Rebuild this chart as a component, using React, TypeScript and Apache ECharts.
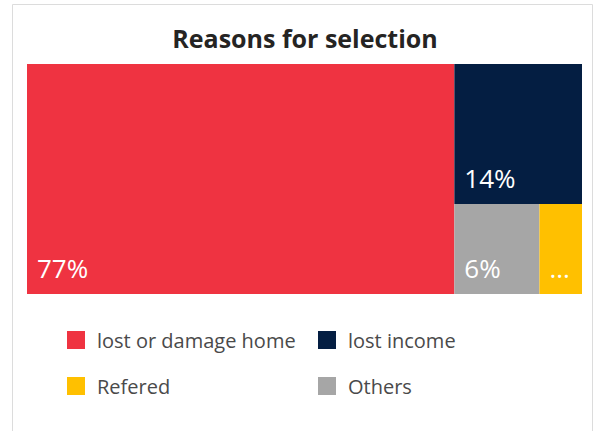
import React, { useEffect, useRef } from "react";
import * as echarts from "echarts";

const categories = ["lost or damage home", "lost income", "Refered", "Others"];
const values = [77, 14, 3, 6];
const colors = ["#EF3341", "#041E42", "#FFC000", "#A6A6A6"];
const legendOrder = [0, 1, 2, 3];

const FONT = "'Open Sans', 'Noto Sans', sans-serif";

export default function App() {
  const ref = useRef<HTMLDivElement>(null);
  useEffect(() => {
    if (!ref.current) return;
    const chart = echarts.init(ref.current, null, { renderer: "svg" });
    const total = values.reduce((a, b) => a + b, 0);
    const legendGraphics: any[] = [];
    legendOrder.forEach((idx, i) => {
      const col = i % 2;
      const row = Math.floor(i / 2);
      const x = col === 0 ? 67 : 318;
      const cy = 340 + row * 46;
      legendGraphics.push({
        type: "rect",
        shape: { x, y: cy - 9, width: 18, height: 18 },
        style: { fill: colors[idx] },
      });
      legendGraphics.push({
        type: "text",
        x: x + 30,
        y: cy,
        style: {
          text: categories[idx],
          fill: "#4a4a4a",
          font: `20px ${FONT}`,
          verticalAlign: "middle",
          textAlign: "left",
        },
      });
    });
    chart.setOption({
      animation: false,
      title: {
        text: "Reasons for selection",
        left: 300,
        textAlign: "center",
        top: 20,
        textStyle: { fontFamily: FONT, fontWeight: "bold", fontSize: 25, color: "#252423" },
      },
      graphic: [
        {
          type: "rect",
          shape: { x: 12.5, y: 4.5, width: 580, height: 440 },
          style: { fill: "none", stroke: "#dcdcdc", lineWidth: 1 },
          z: -1,
        },
        ...legendGraphics,
      ],
      series: [
        {
          type: "treemap",
          left: 27,
          top: 64,
          width: 555,
          height: 230,
          roam: false,
          nodeClick: false,
          breadcrumb: { show: false },
          sort: "desc",
          itemStyle: { borderWidth: 0, gapWidth: 0, borderColor: "transparent" },
          label: {
            show: true,
            position: "insideBottomLeft",
            distance: 10,
            padding: [0, 0, 3, 0],
            color: "#ffffff",
            fontFamily: FONT,
            fontSize: 26,
            overflow: "truncate",
            ellipsis: "...",
            formatter: (p: any) => {
              const pct = Math.round((p.value / total) * 100);
              return pct < 5 ? "..." : pct + "%";
            },
          },
          data: categories.map((name, i) => ({
            name,
            value: values[i],
            itemStyle: { color: colors[i] },
          })),
        },
      ],
    });
    return () => chart.dispose();
  }, []);
  return (
    <div
      ref={ref}
      style={{ position: "absolute", left: 0, top: 0, width: 596, height: 431 }}
    />
  );
}
